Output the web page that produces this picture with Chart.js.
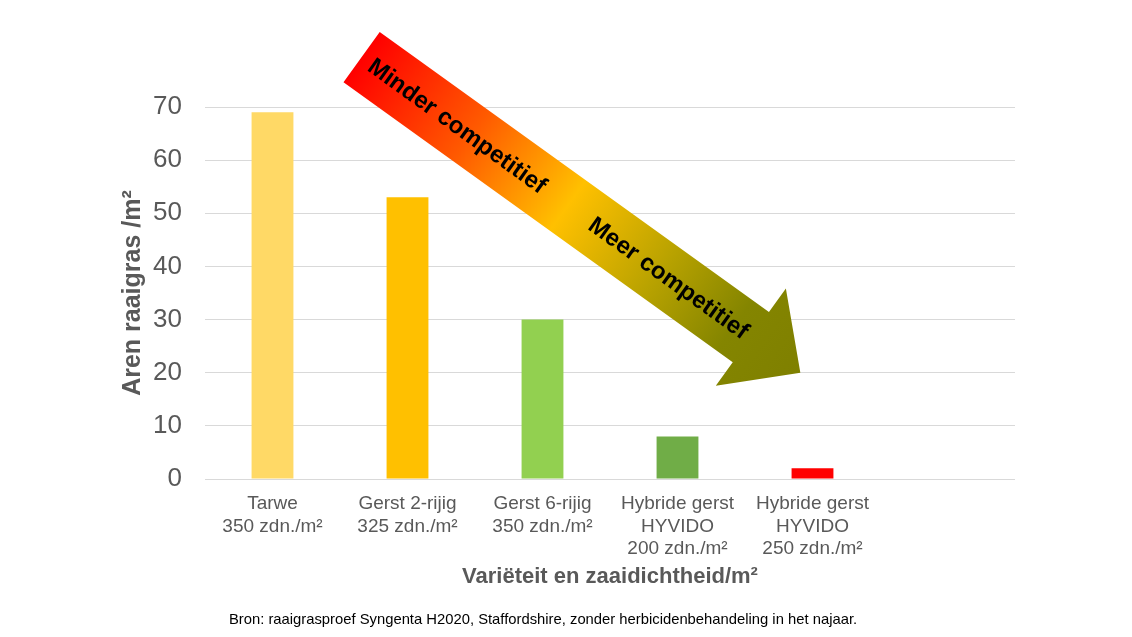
<!DOCTYPE html>
<html>
<head>
<meta charset="utf-8">
<script src="https://cdn.jsdelivr.net/npm/chart.js@4.4.1/dist/chart.umd.min.js"></script>
<style>
  html, body { margin: 0; padding: 0; background: #fff; }
  #wrap { width: 1132px; height: 637px; position: relative; }
</style>
</head>
<body>
<div id="wrap"><canvas id="chart"></canvas></div>
<script>
// data
const categories = [
  ['Tarwe', '350 zdn./m²'],
  ['Gerst 2-rijig', '325 zdn./m²'],
  ['Gerst 6-rijig', '350 zdn./m²'],
  ['Hybride gerst', 'HYVIDO', '200 zdn./m²'],
  ['Hybride gerst', 'HYVIDO', '250 zdn./m²'],
  ''
];
const values = [69, 53, 30, 8, 2];
const barColors = ['#FFD966', '#FFC000', '#92D050', '#70AD47', '#FF0000'];
const yTicks = [0, 10, 20, 30, 40, 50, 60, 70];

const yTitle = 'Aren raaigras /m²';
const xTitle = 'Variëteit en zaaidichtheid/m²';
const sourceNote = 'Bron: raaigrasproef Syngenta H2020, Staffordshire, zonder herbicidenbehandeling in het najaar.';
const arrowLabels = ['Minder competitief', 'Meer competitief'];

const FONT = "'Liberation Sans', Arial, sans-serif";
const GREY = '#595959';

// gradient arrow, anchored in data units (category index, value)
const arrowPlugin = {
  id: 'competitionArrow',
  afterDraw(chart, args, opts) {
    const { ctx } = chart;
    const xs = chart.scales.x, ys = chart.scales.y;
    const x0 = xs.getPixelForValue(opts.from[0]), y0 = ys.getPixelForValue(opts.from[1]);
    const x1 = xs.getPixelForValue(opts.to[0]), y1 = ys.getPixelForValue(opts.to[1]);
    const len = Math.hypot(x1 - x0, y1 - y0);
    const ang = Math.atan2(y1 - y0, x1 - x0);
    const sw = opts.shaftWidth / 2, hw = opts.headWidth / 2, hl = opts.headLength;

    ctx.save();
    ctx.translate(x0, y0);
    ctx.rotate(ang);
    const grad = ctx.createLinearGradient(0, 0, len, 0);
    grad.addColorStop(0, '#FF0000');
    grad.addColorStop(0.25, '#FF5A00');
    grad.addColorStop(0.47, '#FFC000');
    grad.addColorStop(0.68, '#B8A200');
    grad.addColorStop(0.85, '#848500');
    grad.addColorStop(1, '#7F8000');
    ctx.beginPath();
    ctx.moveTo(0, -sw);
    ctx.lineTo(len - hl, -sw);
    ctx.lineTo(len - hl, -hw);
    ctx.lineTo(len, 0);
    ctx.lineTo(len - hl, hw);
    ctx.lineTo(len - hl, sw);
    ctx.lineTo(0, sw);
    ctx.closePath();
    ctx.fillStyle = grad;
    ctx.fill();

    ctx.fillStyle = '#000';
    ctx.font = 'bold 24px ' + FONT;
    ctx.textAlign = 'center';
    ctx.textBaseline = 'middle';
    opts.labels.forEach((txt, i) => {
      ctx.fillText(txt, len * opts.labelPos[i], 1);
    });
    ctx.restore();

    // source line under the chart
    ctx.save();
    ctx.fillStyle = '#000';
    ctx.font = '14.8px ' + FONT;
    ctx.textAlign = 'center';
    ctx.textBaseline = 'middle';
    ctx.fillText(opts.note, opts.noteX, opts.noteY);
    ctx.restore();
  }
};

new Chart(document.getElementById('chart'), {
  type: 'bar',
  data: {
    labels: categories,
    datasets: [{
      data: values,
      backgroundColor: barColors,
      borderWidth: 0,
      categoryPercentage: 1,
      barPercentage: 0.31
    }]
  },
  options: {
    responsive: true,
    maintainAspectRatio: false,
    animation: false,
    layout: { padding: { top: 107, right: 117, left: 0, bottom: 0 } },
    plugins: {
      legend: { display: false },
      tooltip: { enabled: false },
      competitionArrow: {
        from: [0.66, 79.4],
        to: [3.91, 20],
        shaftWidth: 62,
        headWidth: 120,
        headLength: 61,
        labels: arrowLabels,
        labelPos: [0.218, 0.70],
        note: sourceNote,
        noteX: 543,
        noteY: 620
      }
    },
    scales: {
      x: {
        grid: { display: false, drawTicks: false },
        border: { display: false },
        ticks: {
          color: GREY,
          font: { family: FONT, size: 19, lineHeight: 1.18 },
          padding: 14,
          maxRotation: 0,
          autoSkip: false
        },
        title: {
          display: true,
          text: xTitle,
          color: GREY,
          font: { family: FONT, size: 22, weight: 'bold', lineHeight: 1.2 },
          padding: { top: 0, bottom: 47 }
        },
        afterFit(s) { s.height = 158; }
      },
      y: {
        min: yTicks[0],
        max: yTicks[yTicks.length - 1],
        afterBuildTicks(s) { s.ticks = yTicks.map(v => ({ value: v })); },
        grid: { color: '#D9D9D9', lineWidth: 1, drawTicks: false },
        border: { display: false },
        ticks: {
          color: GREY,
          font: { family: FONT, size: 26 },
          padding: 23
        },
        title: {
          display: true,
          text: yTitle,
          color: GREY,
          font: { family: FONT, size: 25, weight: 'bold', lineHeight: 1.2 },
          padding: { top: 118, bottom: 0 }
        },
        afterFit(s) { s.width = 205; }
      }
    }
  },
  plugins: [arrowPlugin]
});
</script>
</body>
</html>
